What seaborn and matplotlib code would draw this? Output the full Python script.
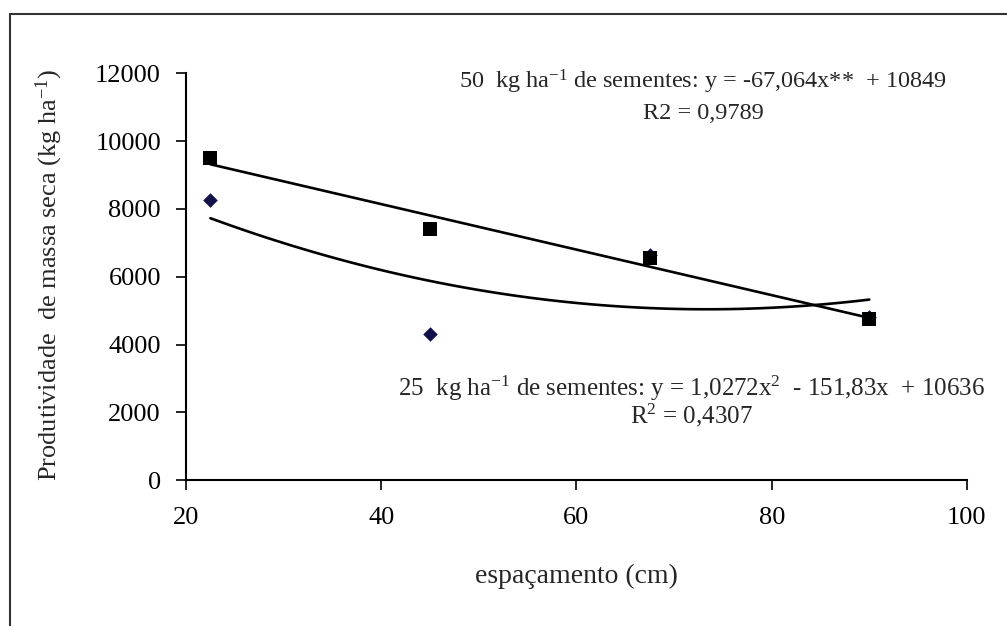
import numpy as np
import pandas as pd
import matplotlib
matplotlib.use("Agg")
import matplotlib.pyplot as plt
import seaborn as sns
from matplotlib.patches import Rectangle

# Data
espacamento = [22.5, 45, 67.5, 90]
prod_50 = [9500, 7400, 6550, 4750]
prod_25 = [8250, 4300, 6650, 4800]
x_ticks = [20, 40, 60, 80, 100]
y_ticks = [0, 2000, 4000, 6000, 8000, 10000, 12000]

sns.set_style("ticks")
plt.rcParams['font.family'] = ['Liberation Serif', 'DejaVu Serif']
plt.rcParams['mathtext.fontset'] = 'custom'
plt.rcParams['mathtext.rm'] = 'Liberation Serif'
plt.rcParams['mathtext.it'] = 'Liberation Serif:italic'

df50 = pd.DataFrame({"x": espacamento, "y": prod_50})
df25 = pd.DataFrame({"x": espacamento, "y": prod_25})

fig = plt.figure(figsize=(10.07, 6.26), dpi=100)
ax = fig.add_axes([0.1847, 0.233, 0.7755, 0.650])

sns.regplot(data=df50, x="x", y="y", order=1, ci=None, ax=ax, truncate=True,
            marker="s", scatter_kws=dict(s=115, color="black", edgecolor="black", linewidths=0,
                                         alpha=1, zorder=3),
            line_kws=dict(color="black", lw=1.9))
sns.regplot(data=df25, x="x", y="y", order=2, ci=None, ax=ax, truncate=True,
            marker="D", scatter_kws=dict(s=55, color="#12124a", edgecolor="#12124a", linewidths=0,
                                         alpha=1, zorder=2),
            line_kws=dict(color="black", lw=1.9))

ax.set_xlim(20, 100)
ax.set_ylim(0, 12000)
ax.set_xticks(x_ticks)
ax.set_yticks(y_ticks)
ax.tick_params(axis='both', labelsize=19, length=7, width=1.2, color='black', labelcolor='black', direction='out')
ax.tick_params(axis='y', pad=11)
ax.tick_params(axis='x', pad=12)
for s in ['top', 'right']:
    ax.spines[s].set_visible(False)
for s in ['left', 'bottom']:
    ax.spines[s].set_linewidth(1.5)
    ax.spines[s].set_color('black')

ax.set_xlabel("espaçamento (cm)", fontsize=20)
ax.set_ylabel("Produtividade  de massa seca (kg ha$^{\\mathrm{-1}}$)", fontsize=19)
ax.xaxis.set_label_coords(0.5, -0.205)
ax.yaxis.set_label_coords(-0.155, 0.505)

ax.text(0.662, 0.978, "50  kg ha$^{\\mathrm{-1}}$ de sementes: y = -67,064x**  + 10849",
        transform=ax.transAxes, ha='center', va='center', fontsize=17.5)
ax.text(0.662, 0.902, "R2 = 0,9789", transform=ax.transAxes, ha='center', va='center', fontsize=17.5)
ax.text(0.647, 0.226, "25  kg ha$^{\\mathrm{-1}}$ de sementes: y = 1,0272x$^{\\mathrm{2}}$  - 151,83x  + 10636",
        transform=ax.transAxes, ha='center', va='center', fontsize=18)
ax.text(0.647, 0.160, "R$^{\\mathrm{2}}$ = 0,4307", transform=ax.transAxes, ha='center', va='center', fontsize=18)

# figure frame (clipped at right and bottom)
fig.patches.append(Rectangle((10/1007, -0.05), 1.1, 1 - 14/626 + 0.05, transform=fig.transFigure,
                             fill=False, edgecolor='#333333', lw=1.5))

fig.savefig("out.png", dpi=100)
